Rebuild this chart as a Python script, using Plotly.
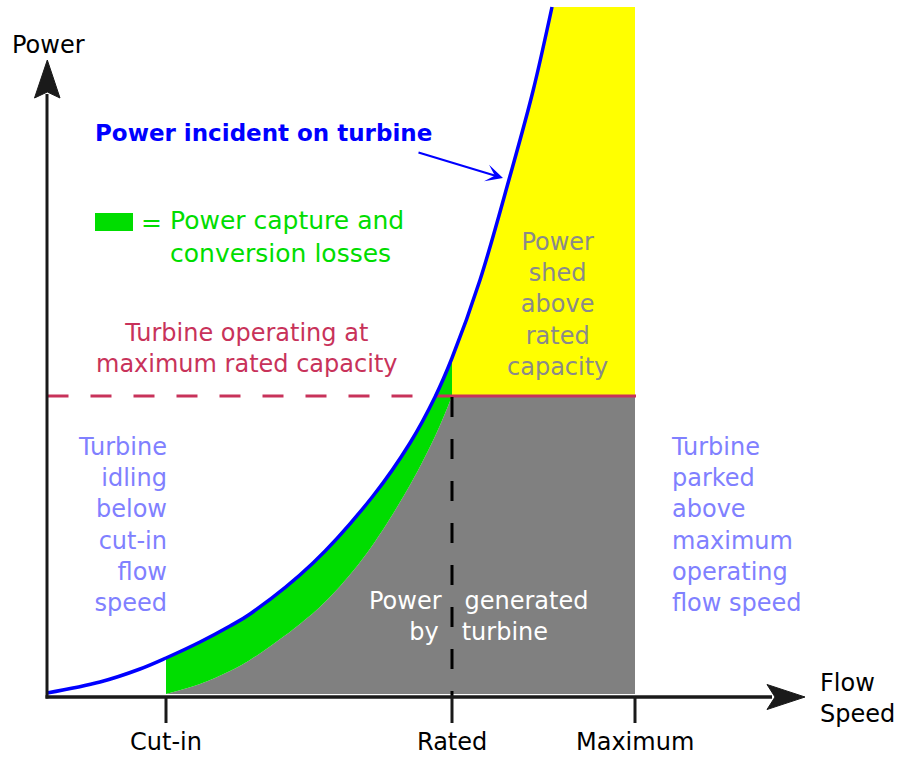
import plotly.graph_objects as go

# ---- Data (schematic units: flow speed / power) ----
speed_incident = [0, 53, 93, 119, 153, 183, 203, 266, 326, 363, 388, 405, 433, 463, 486, 505]
power_incident = [1, 12, 25, 36, 52, 68, 80, 131, 198, 251, 297, 336, 414, 518, 603, 687]

speed_generated = [119, 153, 183, 203, 253, 283, 320, 363, 390, 405]
power_generated = [0, 10, 23, 34, 70, 97, 141, 209, 262, 298]

CUT_IN, RATED, MAXIMUM = 119, 405, 588
RATED_POWER = 298
POWER_TOP = 687
tick_speeds = [CUT_IN, RATED, MAXIMUM]
tick_labels = ["Cut-in", "Rated", "Maximum"]

FONT = "DejaVu Sans"
BLUE = "#0000FF"
GREEN = "#00DD00"
GRAY = "#808080"
YELLOW = "#FFFF00"
CRIMSON = "#C8325A"
LIGHTBLUE = "#8080FF"
AXIS = "#1a1a1a"

fig = go.Figure()

# gray rectangle (rated to maximum)
fig.add_trace(go.Scatter(x=[RATED, MAXIMUM, MAXIMUM, RATED], y=[0, 0, RATED_POWER, RATED_POWER],
                         fill="toself", fillcolor=GRAY, mode="none", hoverinfo="skip"))
# gray area under generated curve
fig.add_trace(go.Scatter(x=speed_generated, y=power_generated, fill="tozeroy", fillcolor=GRAY,
                         mode="lines", line=dict(width=0, shape="spline", color=GRAY), hoverinfo="skip"))
# green losses band between incident and generated
seg_x = [s for s in speed_incident if CUT_IN <= s <= RATED]
seg_y = [p for s, p in zip(speed_incident, power_incident) if CUT_IN <= s <= RATED]
fig.add_trace(go.Scatter(x=seg_x, y=seg_y, fill="tonexty", fillcolor=GREEN,
                         mode="lines", line=dict(width=0, shape="spline", color=GREEN), hoverinfo="skip"))
# yellow shed area
yx = [s for s in speed_incident if s >= RATED] + [MAXIMUM, MAXIMUM, RATED]
yy = [p for s, p in zip(speed_incident, power_incident) if s >= RATED] + [POWER_TOP, RATED_POWER, RATED_POWER]
fig.add_trace(go.Scatter(x=yx, y=yy, fill="toself", fillcolor=YELLOW, mode="none", hoverinfo="skip"))

# rated power line: dashed outside, solid across the filled area
cross_speed = 388
fig.add_trace(go.Scatter(x=[0.5, cross_speed], y=[RATED_POWER, RATED_POWER], mode="lines",
                         line=dict(color=CRIMSON, width=3, dash="21px,22px"), hoverinfo="skip"))
fig.add_trace(go.Scatter(x=[cross_speed, MAXIMUM + 1], y=[RATED_POWER, RATED_POWER], mode="lines",
                         line=dict(color=CRIMSON, width=3), hoverinfo="skip"))
# rated speed dashed vertical
fig.add_trace(go.Scatter(x=[RATED, RATED], y=[RATED_POWER - 1, -3], mode="lines",
                         line=dict(color="black", width=3, dash="20px,22px"), hoverinfo="skip"))

# incident power curve
fig.add_trace(go.Scatter(x=speed_incident, y=power_incident, mode="lines",
                         line=dict(color=BLUE, width=3.5, shape="spline"), hoverinfo="skip"))

shapes = []
# axes
shapes.append(dict(type="line", xref="x", yref="y", x0=0, y0=-4.5, x1=0, y1=600,
                   line=dict(color=AXIS, width=3)))
shapes.append(dict(type="line", xref="x", yref="y", x0=-1.5, y0=-3, x1=725, y1=-3,
                   line=dict(color=AXIS, width=3.5)))
# arrow heads
shapes.append(dict(type="path", xref="x", yref="y",
                   path="M 0.3 634 L 13 596 L 0.3 602 L -12.5 596 Z",
                   fillcolor=AXIS, line=dict(color=AXIS, width=1)))
shapes.append(dict(type="path", xref="x", yref="y",
                   path="M 758 -3 L 720 9.5 L 728 -3 L 720 -15.5 Z",
                   fillcolor=AXIS, line=dict(color=AXIS, width=1)))
# ticks
for s in tick_speeds:
    shapes.append(dict(type="line", xref="x", yref="y", x0=s, y0=-3, x1=s, y1=-29,
                       line=dict(color=AXIS, width=3)))
# green legend swatch
shapes.append(dict(type="rect", xref="x", yref="y", x0=48, y0=463, x1=86, y1=481,
                   fillcolor=GREEN, line=dict(width=0)))

ann = []
def A(x, y, text, color, size=24, xanchor="center", align="center", bold=False):
    t = f"<b>{text}</b>" if bold else text
    ann.append(dict(x=x, y=y, xref="x", yref="y", text=t, showarrow=False,
                    xanchor=xanchor, yanchor="middle", align=align,
                    font=dict(family=FONT, size=size, color=color)))

for s, lab in zip(tick_speeds, tick_labels):
    A(s, -48, lab, "black")
A(1, 649, "Power", "black")
A(771, -4.5, "Flow<br>Speed", "black", xanchor="left", align="left")
A(216, 561, "Power incident on turbine", BLUE, size=23, bold=True)
A(104, 472, "=", GREEN, size=25)
A(121, 457, "Power capture and<br>conversion losses", GREEN, size=25, xanchor="left", align="left")
A(200, 345.5, "Turbine operating at<br>maximum rated capacity", CRIMSON)
A(510, 389.5, "Power<br>shed<br>above<br>rated<br>capacity", "#8a8a8a")
A(122, 169, "Turbine<br>idling<br>below<br>cut-in<br>flow<br>speed", LIGHTBLUE, xanchor="right", align="right")
A(622, 169, "Turbine<br>parked<br>above<br>maximum<br>operating<br>flow speed", LIGHTBLUE, xanchor="left", align="left")
A(431, 77.5, "Power&nbsp;&nbsp;&nbsp;generated<br>by&nbsp;&nbsp;&nbsp;turbine", "white")

# pointer arrow for incident power
ann.append(dict(x=456, y=516, ax=370, ay=542, xref="x", yref="y", axref="x", ayref="y",
                text="", showarrow=True, arrowhead=3, arrowsize=1.3, arrowwidth=2.2, arrowcolor=BLUE))

fig.update_layout(
    width=900, height=757, autosize=False,
    margin=dict(l=0, r=0, t=0, b=0),
    paper_bgcolor="white", plot_bgcolor="white",
    showlegend=False,
    xaxis=dict(range=[-47, 853], visible=False, fixedrange=True),
    yaxis=dict(range=[-63, 694], visible=False, fixedrange=True),
    shapes=shapes, annotations=ann,
)

fig.write_html("out.html", config={"displayModeBar": False},
               post_script="document.body.style.margin='0px';document.body.style.overflow='hidden';")
